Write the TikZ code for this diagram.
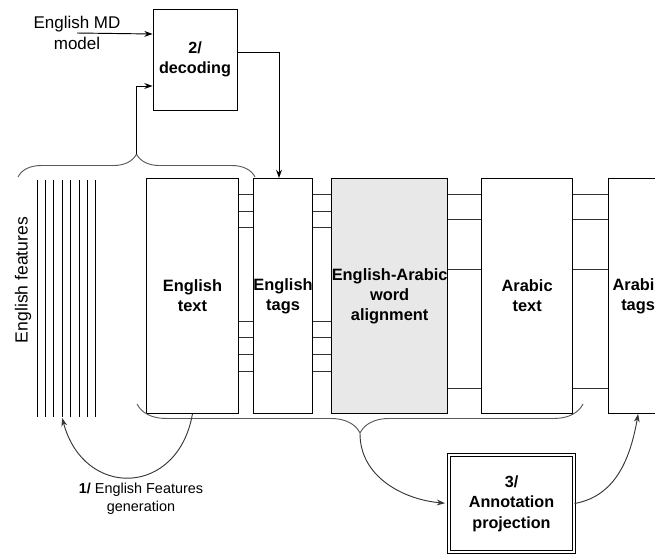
\documentclass[tikz,border=0pt]{standalone}
\usepackage{fontspec}
\setmainfont{Liberation Sans}
\usetikzlibrary{positioning, arrows.meta, decorations.pathreplacing}
\definecolor{alignfill}{RGB}{232,232,232}
\definecolor{curvegray}{RGB}{55,55,55}

\begin{document}
\begin{tikzpicture}[
    x=0.03cm, y=-0.03cm,
    box/.style={rectangle, draw, line width=0.8pt, inner sep=0pt, align=center, minimum height=200.6pt, font=\fontsize{14}{17}\selectfont\bfseries},
    stepbox/.style={rectangle, draw, line width=0.8pt, inner sep=0pt, align=center, font=\fontsize{13.8}{17.5}\selectfont\bfseries},
    link/.style={line width=0.7pt, black!80},
    arrow/.style={-{Stealth[length=7pt,width=5pt]}, line width=0.8pt},
    curvearrow/.style={-{Stealth[length=7pt,width=5pt]}, line width=0.8pt, curvegray},
    brace/.style={decorate, line width=0.8pt, gray!70!black}
]
\useasboundingbox (0,0) rectangle (655,556);
\clip (0,0) rectangle (655,556);

% text columns
\node[box, minimum width=78.5pt, anchor=north west] (entext) at (146,178) {English\\text};
\node[box, minimum width=50.4pt, right=12pt of entext] (entags) {English\\tags};
\node[box, minimum width=99pt, fill=alignfill, right=15.4pt of entags] (align) {English-Arabic\\word\\alignment};
\node[box, minimum width=77.7pt, right=28.2pt of align] (artext) {Arabic\\text};
\node[box, minimum width=50.4pt, right=29.9pt of artext] (artags) {Arabic\\tags};

% word links
\foreach \y in {194,211.5,227.5,321,337,354,371} {
    \draw[link] (entext.east |- 0,\y) -- (entags.west |- 0,\y);
    \draw[link] (entags.east |- 0,\y) -- (align.west |- 0,\y);
}
\foreach \y in {194,219.5,269,388} {
    \draw[link] (align.east |- 0,\y) -- (artext.west |- 0,\y);
    \draw[link] (artext.east |- 0,\y) -- (artags.west |- 0,\y);
}

% english features
\foreach \x in {37,45.4,...,96.5}
    \draw[line width=0.7pt] (\x,180) -- (\x,417);
\coordinate (featbot) at (62.2,418);
\node[rotate=90, font=\fontsize{15}{18}\selectfont] (featlabel) at (23,280) {English features};

% step 2
\node[stepbox, minimum width=71.7pt, minimum height=86.2pt] (decode) at (195,59.5) {2/\\decoding};
\node[align=center, font=\fontsize{14.5}{18.5}\selectfont] (mdmodel) at (77,33) {English MD\\model};

% braces
\draw[brace, decoration={brace, amplitude=19.6pt}] (18,177) -- (255,177);
\coordinate (ttip) at (136.5,154);
\draw[brace, decoration={brace, mirror, amplitude=24.7pt}] (137,404) -- (583,404);
\coordinate (btip) at (360,433.5);

% step 3
\node[stepbox, double, double distance=1.6pt, line width=0.9pt, minimum width=106.7pt, minimum height=83pt] (annot) at (511.5,503.5) {3/\\Annotation\\projection};

\draw[arrow] (mdmodel.center) -- (decode.west |- 0,34);
\draw[arrow] (ttip) |- (decode.west |- 0,86);
\draw[arrow] (decode.east |- 0,52) -| (entags.north -| 279,0);

\draw[curvearrow] (entext.south) to[out=-100, in=-75, looseness=1.65] (featbot);
\node[align=center, font=\fontsize{12.3}{15.4}\selectfont] (featgen) at (141,499) {\textbf{1/} English Features\\generation};

\draw[curvearrow, shorten >=3pt] (btip) to[out=-90, in=175] (annot.west);
\draw[curvearrow] (annot.east) to[out=10, in=-100] (artags.south);
\end{tikzpicture}
\end{document}
